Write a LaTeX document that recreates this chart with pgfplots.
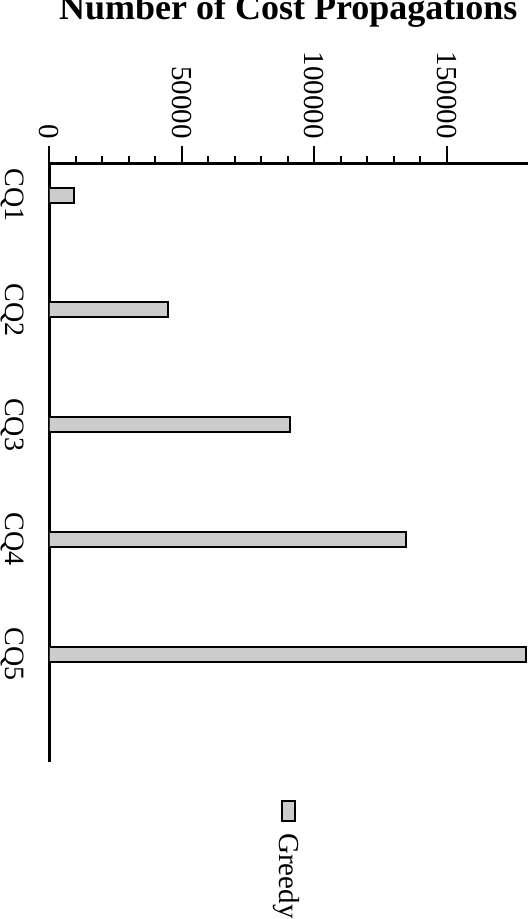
\documentclass[border=0pt]{standalone}
\usepackage{pgfplots}
\pgfplotsset{compat=1.18}
\usepackage{fontspec}
\setmainfont{Liberation Serif}
\pgfplotstableread{
y val
5 9400
4 44700
3 90800
2 134400
1 180000
}\greedy
\begin{document}
\begin{tikzpicture}[x=1pt,y=1pt]
\useasboundingbox (0,0) rectangle (528,919);
\begin{axis}[
  at={(49.5pt,755.7pt)}, anchor=north west,
  scale only axis, width=478.5pt, height=598.4pt,
  xbar, bar width=15pt, bar shift=0pt,
  xmin=0, xmax=180580, ymin=0.062, ymax=5.279,
  axis x line*=top, axis y line*=left,
  axis line style={line width=2.7pt, -},
  xtick={0,50000,100000,150000},
  minor x tick num=4,
  scaled x ticks=false,
  /pgf/number format/assume math mode=true,
  xticklabel style={inner sep=0pt, yshift=7.5pt, rotate=-90, anchor=east, font=\fontsize{29}{29}\selectfont,
    /pgf/number format/fixed, /pgf/number format/1000 sep={}},
  ytick={1,2,3,4,5}, yticklabels={CQ5,CQ4,CQ3,CQ2,CQ1},
  yticklabel style={inner sep=0pt, xshift=-8pt, rotate=-90, anchor=north, font=\fontsize{28}{28}\selectfont},
  y tick style={draw=none},
  tick align=outside,
  major tick length=17pt, minor tick length=7pt,
  x tick style={line width=2pt, black},
]
\addplot[draw=black, line width=2pt, fill=gray!40] table[x=val, y=y] {\greedy};
\end{axis}
% legend
\draw[fill=gray!40, line width=2pt] (281.7,118) rectangle (295,98);
\node[rotate=-90, anchor=base west, inner sep=0pt, font=\fontsize{29}{29}\selectfont] at (279.5,86) {Greedy};
\node[anchor=base, inner sep=0pt, font=\fontsize{36}{36}\selectfont\bfseries] at (288.3,899) {Number of Cost Propagations};
\end{tikzpicture}
\end{document}
